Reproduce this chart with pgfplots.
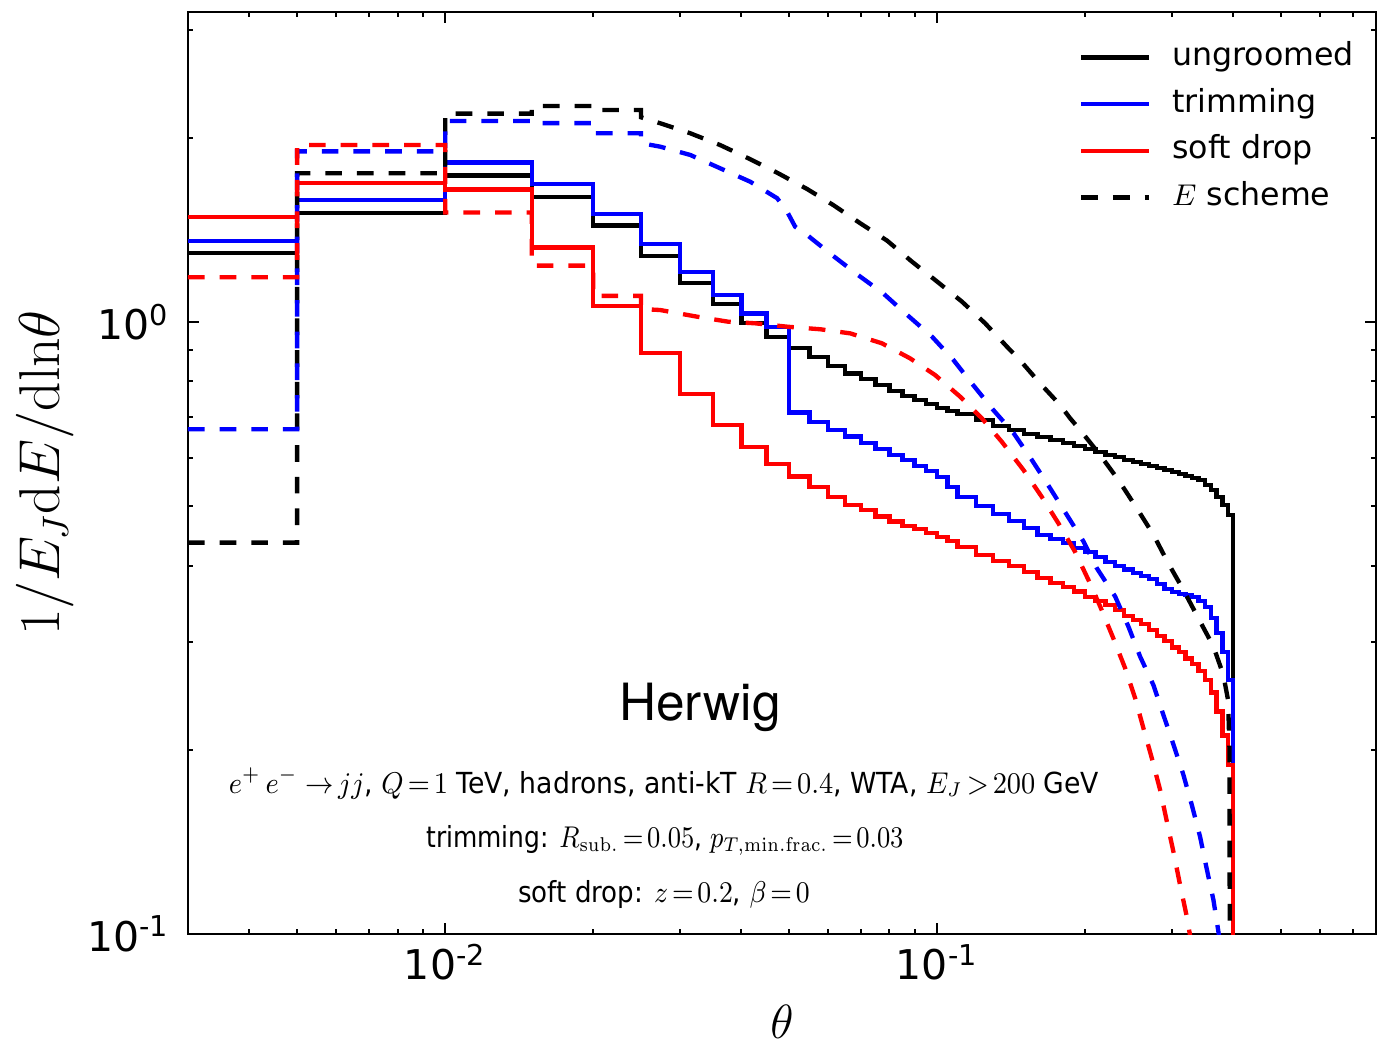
\documentclass[border=0pt]{standalone}
\usepackage[no-math]{fontspec}
\setmainfont{DejaVu Sans}
\newfontfamily\herwigfont{TeX Gyre Heros}
\usepackage{graphicx}
\usepackage{pgfplots}
\pgfplotsset{compat=1.18}
\begin{document}
\begin{tikzpicture}
\useasboundingbox (-56.4pt,-33pt) rectangle (357pt,280.2pt);
\begin{axis}[
  xmode=log, ymode=log,
  scale only axis,
  width=356.4pt, height=276.6pt,
  xmin=0.003, xmax=0.78, ymin=0.1, ymax=3.21,
  xtick={0.01,0.1}, xticklabels={10\textsuperscript{-2},10\textsuperscript{-1}},
  ytick={0.1,1}, yticklabels={10\textsuperscript{-1},10\textsuperscript{0}},
  minor xtick={0.004,0.005,0.006,0.007,0.008,0.009,0.02,0.03,0.04,0.05,0.06,0.07,0.08,0.09,0.2,0.3,0.4,0.5,0.6,0.7},
  minor ytick={0.2,0.3,0.4,0.5,0.6,0.7,0.8,0.9,2,3},
  tick align=inside, tick pos=both,
  major tick length=3.3pt, minor tick length=1.6pt,
  tick style={black, line width=0.6pt},
  axis line style={line width=0.7pt},
  ticklabel style={font=\fontsize{12.3}{14}\selectfont},
  yticklabel style={xshift=-2pt},
  xticklabel style={yshift=0.5pt},
  xlabel={$\theta$},
  ylabel={$1/E_J\mathrm{d}E/\mathrm{d}\mathrm{ln}\theta$},
  xlabel style={at={(axis description cs:0.5,-0.0954)}, anchor=center, font=\fontsize{15}{18}\selectfont},
  ylabel style={at={(axis description cs:-0.1204,0.5)}, anchor=center, font=\fontsize{15.9}{18}\selectfont},
  legend style={at={(axis description cs:0.996,0.984)}, anchor=north east, draw=none, fill=none,
    font=\fontsize{9.5}{11}\selectfont,
    nodes={text height=7.2pt, text depth=2.3pt, inner ysep=2.25pt},
    /tikz/every odd column/.append style={column sep=4.2pt}},
  legend cell align=left,
  legend image code/.code={\draw[#1] (0pt,0pt) -- (20.4pt,0pt);},
  every axis plot/.append style={line width=1.3pt},
]
% ungroomed (solid black)
\addplot[black, const plot] coordinates {
(0.003,1.295)(0.005,1.505)(0.01,1.735)(0.015,1.602)(0.02,1.437)(0.025,1.283)(0.03,1.159)(0.035,1.070)(0.04,0.996)(0.045,0.945)
(0.05,0.906)(0.055,0.876)(0.06,0.848)(0.065,0.824)(0.07,0.807)(0.075,0.789)(0.08,0.771)(0.085,0.757)(0.09,0.746)(0.095,0.735)
(0.1,0.724)(0.105,0.716)(0.11,0.708)(0.12,0.692)(0.13,0.676)(0.14,0.666)(0.15,0.656)(0.16,0.649)(0.17,0.641)(0.18,0.634)(0.19,0.627)
(0.2,0.620)(0.21,0.613)(0.22,0.606)(0.23,0.602)(0.24,0.595)(0.25,0.590)(0.26,0.586)(0.27,0.582)(0.28,0.577)(0.29,0.573)
(0.3,0.569)(0.31,0.565)(0.32,0.560)(0.33,0.556)(0.34,0.552)(0.35,0.542)(0.36,0.532)(0.37,0.518)(0.38,0.502)(0.39,0.484)(0.4,0.001)};
\addlegendentry{ungroomed}
% trimming (solid blue)
\addplot[blue, const plot] coordinates {
(0.003,1.356)(0.005,1.582)(0.01,1.823)(0.015,1.679)(0.02,1.50)(0.025,1.34)(0.03,1.208)(0.035,1.107)(0.04,1.033)(0.045,0.982)
(0.05,0.711)(0.055,0.687)(0.06,0.666)(0.065,0.650)(0.07,0.634)(0.075,0.620)(0.08,0.606)(0.085,0.595)(0.09,0.582)(0.095,0.571)
(0.1,0.558)(0.105,0.538)(0.11,0.518)(0.12,0.500)(0.13,0.486)(0.14,0.473)(0.15,0.461)(0.16,0.449)(0.17,0.442)(0.18,0.435)(0.19,0.427)
(0.2,0.421)(0.21,0.413)(0.22,0.405)(0.23,0.399)(0.24,0.394)(0.25,0.389)(0.26,0.385)(0.27,0.380)(0.28,0.373)(0.29,0.366)
(0.3,0.362)(0.31,0.359)(0.32,0.358)(0.33,0.355)(0.34,0.350)(0.35,0.342)(0.36,0.328)(0.37,0.310)(0.38,0.289)(0.39,0.260)(0.4,0.001)};
\addlegendentry{trimming}
% soft drop (solid red)
\addplot[red, const plot] coordinates {
(0.003,1.486)(0.005,1.685)(0.01,1.647)(0.015,1.323)(0.02,1.063)(0.025,0.889)(0.03,0.762)(0.035,0.679)(0.04,0.625)(0.045,0.586)
(0.05,0.559)(0.055,0.538)(0.06,0.518)(0.065,0.502)(0.07,0.493)(0.075,0.481)(0.08,0.472)(0.085,0.464)(0.09,0.459)(0.095,0.452)
(0.1,0.445)(0.105,0.439)(0.11,0.429)(0.12,0.416)(0.13,0.407)(0.14,0.399)(0.15,0.390)(0.16,0.382)(0.17,0.375)(0.18,0.369)(0.19,0.363)
(0.2,0.355)(0.21,0.350)(0.22,0.345)(0.23,0.338)(0.24,0.331)(0.25,0.326)(0.26,0.321)(0.27,0.314)(0.28,0.307)(0.29,0.301)
(0.3,0.294)(0.31,0.289)(0.32,0.282)(0.33,0.276)(0.34,0.269)(0.35,0.260)(0.36,0.248)(0.37,0.231)(0.38,0.211)(0.39,0.189)(0.4,0.001)};
\addlegendentry{soft drop}
% E scheme ungroomed (dashed black)
\addplot[black, dash pattern=on 5pt off 4.5pt] coordinates {
(0.003,0.436)(0.005,0.436)(0.005,1.75)(0.01,1.75)(0.01,2.19)(0.015,2.19)(0.015,2.254)(0.02,2.254)(0.02,2.22)(0.025,2.22)(0.025,2.16)
(0.02735,2.112)(0.03148,2.034)(0.03622,1.946)(0.04169,1.845)(0.04751,1.750)(0.05442,1.649)(0.06147,1.553)(0.06975,1.450)
(0.07913,1.358)(0.08897,1.254)(0.1,1.164)(0.1124,1.079)(0.1252,0.995)(0.1394,0.907)(0.1463,0.872)(0.1619,0.794)(0.1778,0.732)
(0.1864,0.696)(0.1953,0.666)(0.2145,0.606)(0.2336,0.552)(0.2547,0.496)(0.2753,0.449)(0.2952,0.403)(0.3167,0.365)(0.3397,0.328)
(0.3645,0.295)(0.3819,0.265)(0.3904,0.241)(0.393,0.2)(0.396,0.001)};
\addlegendentry{$E$ scheme}
% E scheme trimming (dashed blue)
\addplot[blue, dash pattern=on 5pt off 4.5pt, forget plot] coordinates {
(0.003,0.668)(0.005,0.668)(0.005,1.90)(0.01,1.90)(0.01,2.13)(0.015,2.13)(0.015,2.113)(0.02,2.113)(0.02,2.034)(0.025,2.034)(0.025,1.96)
(0.02735,1.934)(0.03148,1.875)(0.03622,1.783)(0.04169,1.695)(0.04729,1.593)(0.04956,1.514)(0.05145,1.431)(0.05442,1.387)
(0.06118,1.286)(0.06909,1.193)(0.07767,1.114)(0.0869,1.027)(0.09767,0.946)(0.1079,0.867)(0.1176,0.794)(0.1301,0.718)
(0.1429,0.659)(0.1558,0.595)(0.1697,0.535)(0.1835,0.484)(0.1984,0.438)(0.2112,0.396)(0.2301,0.356)(0.2448,0.318)(0.2586,0.284)
(0.2753,0.255)(0.2884,0.228)(0.3022,0.204)(0.3167,0.182)(0.3294,0.1625)(0.3424,0.1442)(0.3525,0.1288)(0.3645,0.1137)(0.3731,0.1009)(0.38,0.09)};
% E scheme soft drop (dashed red)
\addplot[red, dash pattern=on 5pt off 4.5pt, forget plot] coordinates {
(0.003,1.183)(0.005,1.183)(0.005,1.946)(0.01,1.946)(0.01,1.51)(0.015,1.51)(0.015,1.236)(0.02,1.236)(0.02,1.103)(0.025,1.103)(0.025,1.05)
(0.02735,1.046)(0.03252,1.020)(0.03761,1.001)(0.04267,0.995)(0.0498,0.982)(0.05783,0.973)(0.06658,0.958)(0.0772,0.923)
(0.08813,0.872)(0.09906,0.819)(0.1114,0.755)(0.1233,0.696)(0.1354,0.637)(0.1498,0.573)(0.1632,0.518)(0.1764,0.469)(0.1908,0.421)
(0.203,0.379)(0.2145,0.343)(0.2282,0.304)(0.241,0.272)(0.2526,0.243)(0.2626,0.217)(0.2732,0.1937)(0.284,0.1719)(0.2931,0.1527)
(0.3022,0.1363)(0.3118,0.1203)(0.3218,0.1067)(0.33,0.095)};
% annotations
\node[anchor=base, font=\herwigfont\fontsize{15.4}{18}\selectfont] at (rel axis cs:0.431,0.2321) {Herwig};
\node[anchor=base, font=\fontsize{8.7}{10}\selectfont] at (rel axis cs:0.4007,0.1529)
  {\thickmuskip=2.5mu\scalebox{0.92}[1]{$e^+\,e^-\;\to jj$, $Q=1$ TeV, hadrons, anti-kT $R=0.4$, WTA, $E_J>200$ GeV}};
\node[anchor=base, font=\fontsize{8.7}{10}\selectfont] at (rel axis cs:0.4015,0.0936)
  {\thickmuskip=2.5mu\scalebox{0.86}[1]{trimming: $R_{\mathrm{sub.}}=0.05$, $p_{T,\mathrm{min.frac.}}=0.03$}};
\node[anchor=base, font=\fontsize{8.7}{10}\selectfont] at (rel axis cs:0.4007,0.0339)
  {\thickmuskip=2.5mu\scalebox{0.9}[1]{soft drop: $z=0.2$, $\beta=0$}};
\end{axis}
\end{tikzpicture}
\end{document}
